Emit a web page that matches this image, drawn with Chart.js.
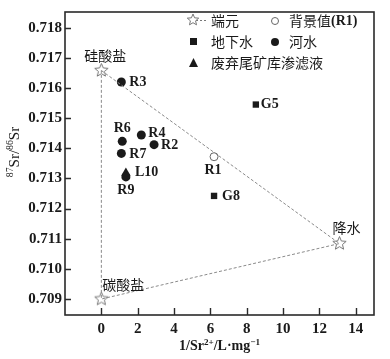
<!DOCTYPE html>
<html>
<head>
<meta charset="utf-8">
<script src="https://cdn.jsdelivr.net/npm/chart.js@4/dist/chart.umd.min.js"></script>
<style>
  html, body { margin: 0; padding: 0; background: #fff; }
  #wrap { width: 390px; height: 359px; position: relative; }
</style>
</head>
<body>
<div id="wrap"><canvas id="srChart"></canvas></div>
<script>
// Ejes
const xTicks = [0, 2, 4, 6, 8, 10, 12, 14];
const yTicks = [0.709, 0.710, 0.711, 0.712, 0.713, 0.714, 0.715, 0.716, 0.717, 0.718];

// 端元 (硅酸盐, 降水, 碳酸盐)
const endLabels = ['硅酸盐', '降水', '碳酸盐'];
const endX = [0, 13.1, 0];
const endY = [0.71658, 0.71084, 0.709];

// 背景值
const bgLabels = ['R1'];
const bgX = [6.2];
const bgY = [0.71372];

// 地下水
const gwLabels = ['G5', 'G8'];
const gwX = [8.5, 6.2];
const gwY = [0.71545, 0.71242];

// 河水
const riverLabels = ['R2', 'R3', 'R4', 'R6', 'R7', 'R9'];
const riverX = [2.9, 1.1, 2.2, 1.15, 1.1, 1.35];
const riverY = [0.71412, 0.7162, 0.71444, 0.71423, 0.71383, 0.71305];

// 废弃尾矿库渗滤液
const leachLabels = ['L10'];
const leachX = [1.35];
const leachY = [0.71318];

const toPts = (xs, ys) => xs.map((x, i) => ({ x: x, y: ys[i] }));

// estrella hueca de 5 puntas
function makeStar(size) {
    const c = document.createElement('canvas');
    c.width = size; c.height = size;
    const g = c.getContext('2d');
    drawStar(g, size / 2, size / 2, size / 2 - 1.5);
    return c;
}
function drawStar(g, cx, cy, r) {
    g.beginPath();
    for (let i = 0; i < 10; i++) {
        const rr = i % 2 === 0 ? r : r * 0.45;
        const a = -Math.PI / 2 + i * Math.PI / 5;
        const px = cx + rr * Math.cos(a), py = cy + rr * Math.sin(a);
        if (i === 0) g.moveTo(px, py); else g.lineTo(px, py);
    }
    g.closePath();
    g.fillStyle = '#fff';
    g.fill();
    g.strokeStyle = '#777';
    g.lineWidth = 1;
    g.stroke();
}
const starImg = makeStar(17);

// posicion de etiquetas: [dx, dy, align]
const labelPos = {
    'R3': [8, 0, 'left'], 'R6': [0, -13, 'center'], 'R4': [7, -2, 'left'],
    'R2': [7, 1, 'left'], 'R7': [8, 1, 'left'], 'R9': [0, 13, 'center'],
    'L10': [9, -1, 'left'], 'R1': [-1, 14, 'center'],
    'G5': [5, 0, 'left'], 'G8': [8, 0, 'left'],
    '硅酸盐': [4, -15, 'center'], '降水': [7, -16, 'center'], '碳酸盐': [1, -14, 'left']
};
const serifB = 'bold 14px "Liberation Serif", "DejaVu Serif", serif';
const cjk = '14px "Noto Sans CJK SC", sans-serif';

function drawRich(ctx, parts, x, y, baseSize, weight) {
    // parts: [texto, esSuper]
    let cx = x;
    parts.forEach(p => {
        const sz = p[1] ? baseSize * 0.65 : baseSize;
        ctx.font = weight + ' ' + sz + 'px "Liberation Serif", "DejaVu Serif", serif';
        ctx.fillText(p[0], cx, p[1] ? y - baseSize * 0.38 : y);
        cx += ctx.measureText(p[0]).width;
    });
    return cx - x;
}
function richWidth(ctx, parts, baseSize, weight) {
    let w = 0;
    parts.forEach(p => {
        const sz = p[1] ? baseSize * 0.65 : baseSize;
        ctx.font = weight + ' ' + sz + 'px "Liberation Serif", "DejaVu Serif", serif';
        w += ctx.measureText(p[0]).width;
    });
    return w;
}

const decorPlugin = {
    id: 'decor',
    afterDatasetsDraw(chart) {
        const ctx = chart.ctx;
        const a = chart.chartArea;
        const xs = chart.scales.x, ys = chart.scales.y;
        ctx.save();
        // marco
        ctx.strokeStyle = '#2a2a2a';
        ctx.lineWidth = 1.6;
        ctx.strokeRect(a.left, a.top, a.right - a.left, a.bottom - a.top);
        // marcas hacia dentro
        ctx.lineWidth = 1.4;
        ctx.beginPath();
        yTicks.forEach(v => {
            const py = Math.round(ys.getPixelForValue(v)) + 0.5;
            ctx.moveTo(a.left, py); ctx.lineTo(a.left + 6, py);
        });
        xTicks.forEach(v => {
            const px = Math.round(xs.getPixelForValue(v)) + 0.5;
            ctx.moveTo(px, a.bottom); ctx.lineTo(px, a.bottom - 7);
        });
        ctx.stroke();

        // etiquetas de puntos
        ctx.fillStyle = '#1a1a1a';
        ctx.textBaseline = 'middle';
        chart.data.datasets.forEach((ds, i) => {
            if (!ds.names) return;
            const meta = chart.getDatasetMeta(i);
            meta.data.forEach((el, j) => {
                const name = ds.names[j];
                const p = labelPos[name] || [6, 0, 'left'];
                ctx.font = /[A-Z]/.test(name) ? serifB : cjk;
                ctx.textAlign = p[2];
                ctx.fillText(name, el.x + p[0], el.y + p[1]);
            });
        });

        // leyenda
        ctx.textAlign = 'left';
        ctx.font = cjk;
        ctx.strokeStyle = '#777';
        ctx.lineWidth = 1;
        ctx.setLineDash([2, 2]);
        ctx.beginPath(); ctx.moveTo(196, 20.5); ctx.lineTo(206, 20.5); ctx.stroke();
        ctx.setLineDash([]);
        drawStar(ctx, 193, 20, 6);
        ctx.fillStyle = '#1a1a1a';
        ctx.fillText('端元', 211, 21);
        ctx.beginPath(); ctx.arc(275, 21, 3.5, 0, Math.PI * 2);
        ctx.strokeStyle = '#666'; ctx.stroke();
        ctx.fillText('背景值', 289, 21);
        ctx.font = serifB;
        ctx.fillText('(R1)', 289 + 3 * 14, 21);
        ctx.font = cjk;
        ctx.fillStyle = '#1a1a1a';
        ctx.fillRect(190, 38, 7, 7);
        ctx.fillText('地下水', 211, 42);
        ctx.beginPath(); ctx.arc(275, 42, 4, 0, Math.PI * 2); ctx.fill();
        ctx.fillText('河水', 289, 42);
        ctx.beginPath(); ctx.moveTo(193.5, 58); ctx.lineTo(198, 67); ctx.lineTo(189, 67); ctx.closePath(); ctx.fill();
        ctx.fillText('废弃尾矿库渗滤液', 211, 63);

        // titulos de ejes
        ctx.textBaseline = 'alphabetic';
        const xParts = [['1/Sr', false], ['2+', true], ['/L·mg', false], ['−1', true]];
        const xw = richWidth(ctx, xParts, 14, 'bold');
        drawRich(ctx, xParts, (a.left + a.right) / 2 - xw / 2, 350, 14, 'bold');
        const yParts = [['87', true], ['Sr/', false], ['86', true], ['Sr', false]];
        const yw = richWidth(ctx, yParts, 15, 'normal');
        ctx.translate(19, 152);
        ctx.rotate(-Math.PI / 2);
        drawRich(ctx, yParts, -yw / 2, 0, 15, 'normal');
        ctx.restore();
    }
};

const ctxSr = document.getElementById('srChart').getContext('2d');
new Chart(ctxSr, {
    type: 'scatter',
    data: {
        datasets: [
            {
                // triangulo de mezcla
                data: toPts(endX.concat(endX[0]), endY.concat(endY[0])),
                showLine: true,
                borderColor: '#8a8a8a',
                borderWidth: 1,
                borderDash: [3, 2],
                pointRadius: 0,
                fill: false
            },
            {
                data: toPts(endX, endY),
                names: endLabels,
                pointStyle: starImg
            },
            {
                data: toPts(bgX, bgY),
                names: bgLabels,
                pointStyle: 'circle',
                pointRadius: 4,
                backgroundColor: '#fff',
                borderColor: '#666',
                borderWidth: 1
            },
            {
                data: toPts(gwX, gwY),
                names: gwLabels,
                pointStyle: 'rect',
                pointRadius: 4.5,
                backgroundColor: '#1a1a1a',
                borderColor: '#1a1a1a',
                borderWidth: 0
            },
            {
                data: toPts(riverX, riverY),
                names: riverLabels,
                pointStyle: 'circle',
                pointRadius: 4.5,
                backgroundColor: '#1a1a1a',
                borderColor: '#1a1a1a',
                borderWidth: 0
            },
            {
                data: toPts(leachX, leachY),
                names: leachLabels,
                pointStyle: 'triangle',
                pointRadius: 5.5,
                backgroundColor: '#1a1a1a',
                borderColor: '#1a1a1a',
                borderWidth: 0
            }
        ]
    },
    options: {
        responsive: true,
        maintainAspectRatio: false,
        animation: false,
        layout: { padding: { left: 0, top: 9, right: 16, bottom: 0 } },
        plugins: {
            legend: { display: false },
            tooltip: { enabled: false }
        },
        scales: {
            x: {
                type: 'linear',
                min: -2,
                max: 15,
                afterBuildTicks: s => { s.ticks = xTicks.map(v => ({ value: v })); },
                afterFit: s => { s.height = 44; },
                grid: { display: false, drawTicks: false },
                border: { display: false },
                ticks: {
                    padding: 5,
                    color: '#1a1a1a',
                    font: { family: '"Liberation Serif", serif', size: 15, weight: 'bold' },
                    maxRotation: 0
                }
            },
            y: {
                type: 'linear',
                min: 0.70847,
                max: 0.71852,
                afterBuildTicks: s => { s.ticks = yTicks.map(v => ({ value: v })); },
                afterFit: s => { s.width = 65; },
                grid: { display: false, drawTicks: false },
                border: { display: false },
                ticks: {
                    padding: 3,
                    color: '#1a1a1a',
                    font: { family: '"Liberation Serif", serif', size: 15, weight: 'bold' },
                    callback: v => v.toFixed(3)
                }
            }
        }
    },
    plugins: [decorPlugin]
});
</script>
</body>
</html>
